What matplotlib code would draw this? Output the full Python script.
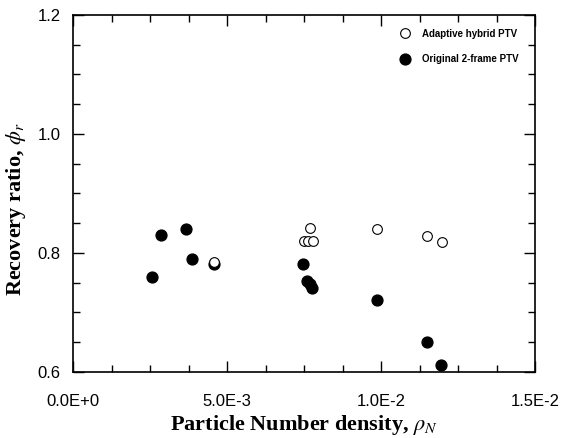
import matplotlib
matplotlib.use("Agg")
import matplotlib.pyplot as plt
from matplotlib.ticker import MultipleLocator, FixedLocator

# Data
hybrid_x = [0.00456, 0.00750, 0.00764, 0.00780, 0.00770, 0.00988, 0.01150, 0.01197]
hybrid_y = [0.785, 0.820, 0.820, 0.820, 0.841, 0.840, 0.829, 0.819]

orig_x = [0.00256, 0.00284, 0.00367, 0.00387, 0.00456, 0.00745, 0.00760, 0.00768, 0.00777, 0.00986, 0.01148, 0.01195]
orig_y = [0.760, 0.830, 0.840, 0.790, 0.781, 0.781, 0.752, 0.748, 0.741, 0.721, 0.650, 0.611]

xticks = [0.0, 0.005, 0.010, 0.015]
xticklabels = ["0.0E+0", "5.0E-3", "1.0E-2", "1.5E-2"]
yticks = [0.6, 0.8, 1.0, 1.2]
yticklabels = ["0.6", "0.8", "1.0", "1.2"]

plt.rcParams['mathtext.fontset'] = 'stix'

fig = plt.figure(figsize=(5.71, 4.38), dpi=100)
ax = fig.add_axes([0.128, 0.151, 0.809, 0.815])

ax.plot(hybrid_x, hybrid_y, linestyle='none', marker='o', markersize=7,
        markerfacecolor='white', markeredgecolor='black', markeredgewidth=0.8,
        label='Adaptive hybrid PTV', zorder=3)
ax.plot(orig_x, orig_y, linestyle='none', marker='o', markersize=7.8,
        markerfacecolor='black', markeredgecolor='black',
        label='Original 2-frame PTV', zorder=2)

ax.set_xlim(0, 0.015)
ax.set_ylim(0.6, 1.2)
ax.xaxis.set_major_locator(FixedLocator(xticks))
ax.set_xticklabels(xticklabels)
ax.yaxis.set_major_locator(FixedLocator(yticks))
ax.set_yticklabels(yticklabels)
ax.xaxis.set_minor_locator(MultipleLocator(0.00125))
ax.yaxis.set_minor_locator(MultipleLocator(0.05))

ax.tick_params(which='both', direction='in', top=True, right=True, width=1.0)
ax.tick_params(which='major', length=8)
ax.tick_params(which='minor', length=5)
ax.tick_params(axis='x', which='major', pad=16)
ax.tick_params(axis='y', which='major', pad=9)
for lbl in ax.get_xticklabels() + ax.get_yticklabels():
    lbl.set_fontfamily('Liberation Sans')
    lbl.set_fontsize(12)

for s in ax.spines.values():
    s.set_linewidth(1.2)

ax.set_xlabel(r'Particle Number density, $\rho_N$', fontfamily='Liberation Serif',
              fontweight='bold', fontsize=16, labelpad=3)
ax.set_ylabel(r'Recovery ratio, $\phi_r$', fontfamily='Liberation Serif',
              fontweight='bold', fontsize=16)
ax.yaxis.set_label_coords(-0.097, 0.457)

leg = ax.legend(loc='upper right', bbox_to_anchor=(0.975, 0.975), frameon=False,
                prop={'family': 'Liberation Sans', 'weight': 'bold', 'size': 7},
                handletextpad=1.2, labelspacing=1.6, borderpad=0, handlelength=1.0,
                markerscale=1.0)

fig.savefig('out.png', dpi=100)
